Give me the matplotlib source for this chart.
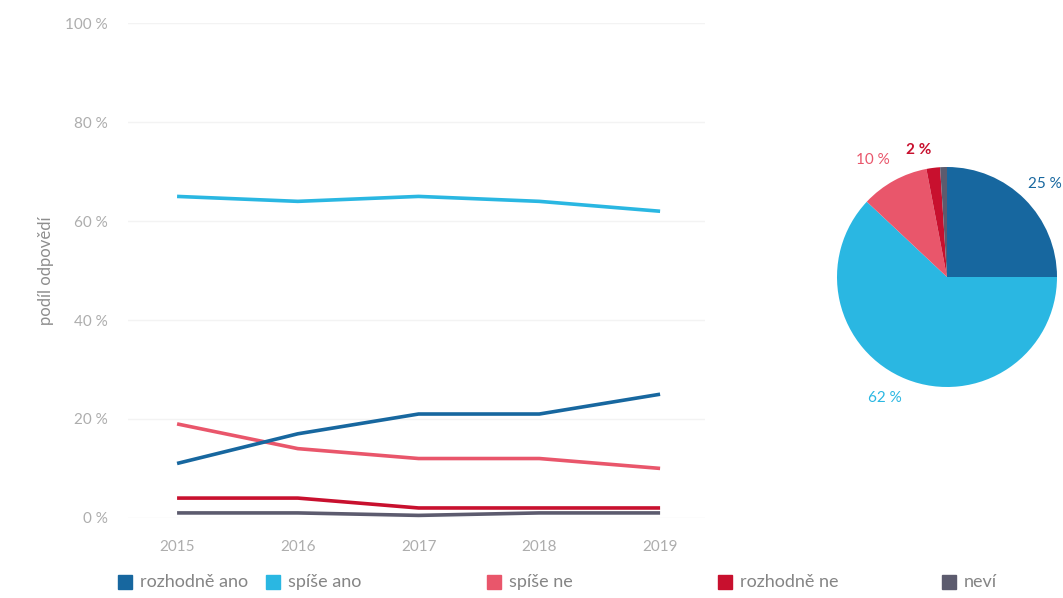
import matplotlib
matplotlib.use("Agg")
import matplotlib.pyplot as plt
from matplotlib.patches import Rectangle

plt.rcParams['font.family'] = ['Lato', 'DejaVu Sans']

years = [2015, 2016, 2017, 2018, 2019]
series_names = ["rozhodně ano", "spíše ano", "spíše ne", "rozhodně ne", "neví"]
rozhodne_ano = [11, 17, 21, 21, 25]
spise_ano = [65, 64, 65, 64, 62]
spise_ne = [19, 14, 12, 12, 10]
rozhodne_ne = [4, 4, 2, 2, 2]
nevi = [1, 1, 0.5, 1, 1]
pie_values = [25, 62, 10, 2, 1]
pie_labels = ["25 %", "62 %", "10 %", "2 %", ""]
y_ticks = [0, 20, 40, 60, 80, 100]

colors = ["#17679f", "#2ab7e2", "#e9566b", "#c8102e", "#5c5b6e"]

fig = plt.figure(figsize=(10.63, 5.98), dpi=100)
ax = fig.add_axes([0.12, 0.134, 0.543, 0.827])
all_series = [rozhodne_ano, spise_ano, spise_ne, rozhodne_ne, nevi]
for idx in [4, 3, 2, 0, 1]:
    ax.plot(years, all_series[idx], color=colors[idx], lw=2.6, solid_capstyle='butt', zorder=3)

ax.set_ylim(0, 100)
ax.set_xlim(2014.59, 2019.37)
ax.set_yticks(y_ticks)
ax.set_yticklabels([f"{v} %" for v in y_ticks])
ax.set_xticks(years)
ax.set_xticklabels([str(y) for y in years])
ax.tick_params(axis='both', length=0, colors="#adadad", labelsize=11)
ax.tick_params(axis='x', pad=16)
ax.tick_params(axis='y', pad=14)
ax.grid(axis='y', color="#f3f3f3", lw=1)
ax.set_axisbelow(True)
for s in ax.spines.values():
    s.set_visible(False)
ax.set_ylabel("podíl odpovědí", color="#8e8e8e", fontsize=12, labelpad=8)

# pie
r = 110
cx, cy = 947, 277
pax = fig.add_axes([(cx - r) / 1063, (598 - cy - r) / 598, 2 * r / 1063, 2 * r / 598])
pax.pie(pie_values, colors=colors, startangle=90, counterclock=False, radius=1,
        wedgeprops=dict(linewidth=0))
pax.set_xlim(-1, 1)
pax.set_ylim(-1, 1)
pax.axis('off')
label_pos = {0: (1028, 184), 1: (885, 398), 2: (873, 160), 3: (919, 150)}
for i, (x, y) in label_pos.items():
    fig.text(x / 1063, 1 - y / 598, pie_labels[i], color=colors[i], fontsize=11,
             fontweight='bold' if i == 3 else 'normal', ha='left' if i == 0 else 'center',
             va='center')

# legend
leg_x = [118, 266, 487, 718, 942]
ly = 582
for i, name in enumerate(series_names):
    fig.patches.append(Rectangle(((leg_x[i]) / 1063, 1 - (ly + 7) / 598), 14 / 1063, 14 / 598,
                                 transform=fig.transFigure, color=colors[i], figure=fig))
    fig.text((leg_x[i] + 22) / 1063, 1 - ly / 598, name, color="#858585", fontsize=13,
             va='center', ha='left')

fig.savefig("out.png", dpi=100, facecolor="white")
